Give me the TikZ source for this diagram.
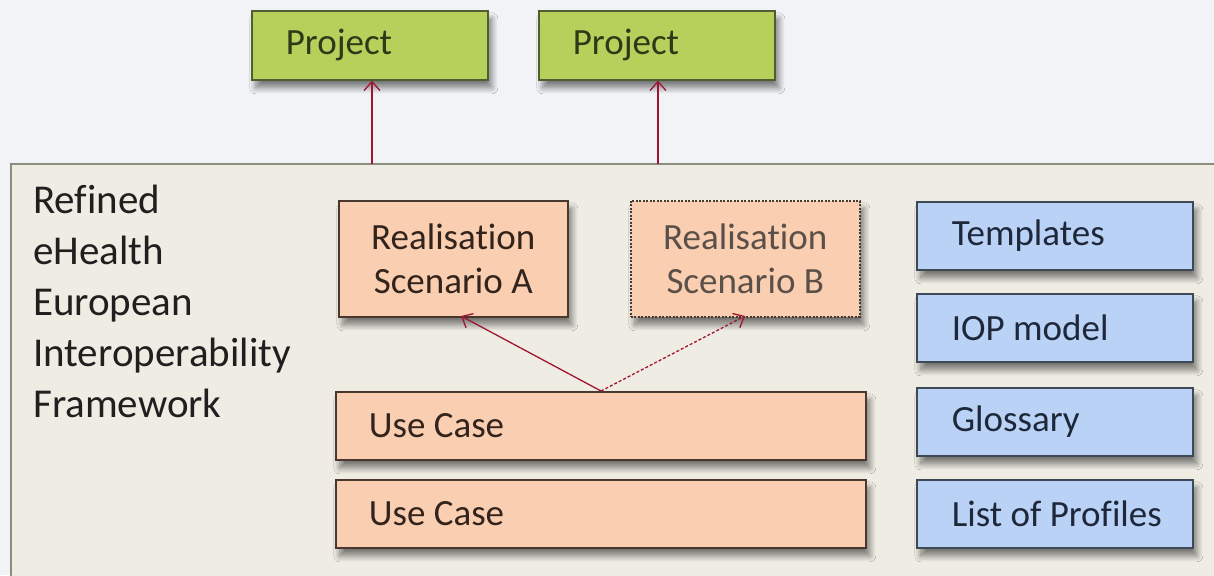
\documentclass[tikz,border=0pt]{standalone}
\usepackage{fontspec}
\setmainfont{Carlito}[Ligatures=CommonOff]
\usetikzlibrary{arrows.meta,shadows.blur}
\definecolor{bgc}{RGB}{241,243,247}
\definecolor{framefill}{RGB}{238,236,227}
\definecolor{framedraw}{RGB}{140,140,128}
\definecolor{greenfill}{RGB}{183,208,92}
\definecolor{greendraw}{RGB}{78,94,48}
\definecolor{greentext}{RGB}{44,58,24}
\definecolor{salmonfill}{RGB}{250,206,176}
\definecolor{salmondraw}{RGB}{72,56,46}
\definecolor{salmontext}{RGB}{50,36,28}
\definecolor{bluefill}{RGB}{186,210,245}
\definecolor{bluedraw}{RGB}{62,72,86}
\definecolor{bluetext}{RGB}{30,40,58}
\definecolor{arrowred}{RGB}{160,22,50}
\tikzset{
  x=1pt, y=-1pt,
  boxbase/.style={rectangle, line width=1.6pt, anchor=north west, align=flush left,
    font=\fontsize{37}{44}\selectfont,
    blur shadow={shadow xshift=4pt, shadow yshift=-8pt, shadow blur radius=6pt,
      shadow blur steps=10, shadow opacity=50}},
  projbox/.style={boxbase, fill=greenfill, draw=greendraw, text=greentext,
    minimum height=69pt, inner xsep=34pt, text width=168pt},
  realbox/.style={boxbase, fill=salmonfill, draw=salmondraw, text=salmontext,
    minimum height=116pt, minimum width=229pt, align=center, inner sep=0pt},
  usebox/.style={boxbase, fill=salmonfill, draw=salmondraw, text=salmontext,
    minimum height=68pt, inner xsep=33pt, text width=464pt},
  glbox/.style={boxbase, fill=bluefill, draw=bluedraw, text=bluetext,
    minimum height=68pt, inner xsep=35pt, text width=206pt},
  link/.style={draw=arrowred, line width=1.3pt, -{Straight Barb[length=9pt,width=16pt,line width=1.3pt]}},
}
\begin{document}
\begin{tikzpicture}
\useasboundingbox (0,0) rectangle (1214,575);
\fill[bgc] (0,0) rectangle (1214,575);
\draw[framedraw, fill=framefill, line width=1.2pt] (1230,164) -- (11,164) -- (11,590) -- (1230,590);
% frame label
\node[anchor=north west, inner sep=0pt, align=left, text=black!88,
  font=\fontsize{41}{51}\selectfont] (title) at (33,185)
  {Refined\\eHealth\\European\\Interoperability\\Framework};
% projects
\node[projbox] (p1) at (251,10) {Project};
\node[projbox] (p2) at (538,10) {Project};
% realisation scenarios
\node[realbox] (ra) at (338,200) {Realisation\\Scenario A};
\node[realbox, dashed, dash pattern=on 2pt off 1.5pt, text=salmontext!80] (rb) at (630,200) {Realisation\\Scenario B};
% use cases
\node[usebox] (u1) at (335,391) {Use Case};
\node[usebox] (u2) at (335,479) {Use Case};
% glossary column
\node[glbox] (g1) at (916,201) {Templates};
\node[glbox] (g2) at (916,293) {IOP model};
\node[glbox] (g3) at (916,387) {Glossary};
\node[glbox] (g4) at (916,479) {\mbox{List of Profiles}};
% connectors
\coordinate (f1) at (372,164);
\coordinate (f2) at (658,164);
\draw[link] (f1) -- (p1.south -| f1);
\draw[link] (f2) -- (p2.south -| f2);
\coordinate (src) at (601,391);
\draw[link] (src) -- (461,316);
\draw[link, dash pattern=on 3pt off 2pt] (src) -- (745,316);
\end{tikzpicture}
\end{document}
